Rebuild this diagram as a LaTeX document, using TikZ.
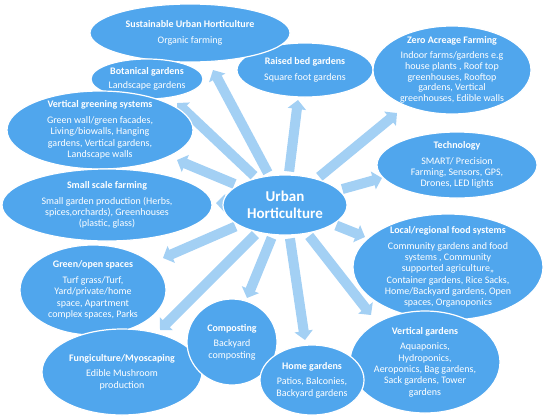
\documentclass[tikz,border=0pt]{standalone}
\usepackage{fontspec}
\setmainfont{Carlito}
\usetikzlibrary{shapes.geometric, arrows.meta, backgrounds}
\definecolor{cBubble}{RGB}{80, 166, 237}
\definecolor{cSpoke}{RGB}{163, 208, 244}

\begin{document}
\begin{tikzpicture}[
    x=1pt, y=-1pt,
    font=\fontsize{10}{11.3}\selectfont,
    bubble/.style={
        ellipse,
        draw=white,
        line width=1.2pt,
        fill=cBubble,
        text=white,
        align=center,
        inner sep=-30pt
    },
    spoke/.style={draw=cSpoke, line width=10pt, shorten <=3pt,
        -{Triangle[width=18pt, length=9pt]}}
]
\useasboundingbox (0,0) rectangle (545,416);

% outer bubbles
\node[bubble, minimum width=136pt, minimum height=54pt] (raised) at (305,70) {
    \textbf{Raised bed gardens}\\[4.5pt]
    Square foot gardens
};
\node[bubble, minimum width=200pt, minimum height=58pt] (sus) at (190,33) {
    \textbf{Sustainable Urban Horticulture}\\[4.5pt]
    Organic farming
};
\node[bubble, minimum width=112pt, minimum height=40pt] (bot) at (147,79) {
    \textbf{Botanical gardens}\\[3pt]
    Landscape gardens
};
\node[bubble, minimum width=186pt, minimum height=78pt] (vgreen) at (100,130) {
    \textbf{Vertical greening systems}\\[4.5pt]
    Green wall/green facades,\\
    Living/biowalls, Hanging\\
    gardens, Vertical gardens,\\
    Landscape walls
};
\node[bubble, minimum width=210pt, minimum height=72pt] (small) at (107,205) {
    \textbf{Small scale farming}\\[4.5pt]
    Small garden production (Herbs,\\
    spices,orchards), Greenhouses\\
    (plastic, glass)
};
\node[bubble, minimum width=146pt, minimum height=90pt] (green) at (93,290) {
    \textbf{Green/open spaces}\\[4.5pt]
    Turf grass/Turf,\\
    Yard/private/home\\
    space, Apartment\\
    complex spaces, Parks
};
\node[bubble, minimum width=160pt, minimum height=86pt] (fungi) at (122,372) {
    \textbf{Fungiculture/Myoscaping}\\[4.5pt]
    Edible Mushroom\\
    production
};
\node[bubble, minimum width=90pt, minimum height=86pt] (comp) at (232,342) {
    \textbf{Composting}\\[4.5pt]
    Backyard\\
    composting
};
\node[bubble, minimum width=190pt, minimum height=106pt] (local) at (448,267) {
    \textbf{Local/regional food systems}\\[4.5pt]
    Community gardens and food\\
    systems , Community\\
    supported agriculture,,\\
    Container gardens, Rice Sacks,\\
    Home/Backyard gardens, Open\\
    spaces, Organoponics
};
\node[bubble, minimum width=150pt, minimum height=102pt] (vgard) at (425,362) {
    \textbf{Vertical gardens}\\[4.5pt]
    Aquaponics,\\
    Hydroponics,\\
    Aeroponics, Bag gardens,\\
    Sack gardens, Tower\\
    gardens
};
\node[bubble, minimum width=104pt, minimum height=70pt] (home) at (312,380) {
    \textbf{Home gardens}\\[4.5pt]
    Patios, Balconies,\\
    Backyard gardens
};
\node[bubble, minimum width=158pt, minimum height=88pt,
      font=\fontsize{10}{10.8}\selectfont] (zero) at (452,70) {
    \textbf{Zero Acreage Farming}\\[4pt]
    Indoor farms/gardens e.g\\
    house plants , Roof top\\
    greenhouses, Rooftop\\
    gardens, Vertical\\
    greenhouses, Edible walls
};
\node[bubble, minimum width=160pt, minimum height=66pt] (tech) at (457,165) {
    \textbf{Technology}\\[4.5pt]
    SMART/ Precision\\
    Farming, Sensors, GPS,\\
    Drones, LED lights
};

% centre
\node[bubble, minimum width=124pt, minimum height=60pt,
      font=\fontsize{15}{17}\selectfont\bfseries] (uh) at (285,205) {Urban\\Horticulture};

% arrow tips
\coordinate (tSus) at (213,70);
\coordinate (tBot) at (177,103);
\coordinate (tVgreen) at (177,160);
\coordinate (tSmall) at (216,203);
\coordinate (tGreen) at (163,258);
\coordinate (tFungi) at (160,330);
\coordinate (tComp) at (247,298);
\coordinate (tHome) at (305,340);
\coordinate (tVgard) at (371,315);
\coordinate (tLocal) at (365,237);
\coordinate (tTech) at (382,178);
\coordinate (tZero) at (397,113);
\coordinate (tRaised) at (298,100);

\begin{scope}[on background layer]
\foreach \t in {tSus, tBot, tVgreen, tSmall, tGreen, tFungi, tComp,
                tHome, tVgard, tLocal, tTech, tZero, tRaised}
    \draw[spoke] (uh) -- (\t);
\end{scope}

\end{tikzpicture}
\end{document}
